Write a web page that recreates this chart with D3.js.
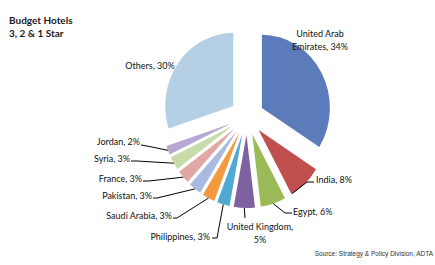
<!DOCTYPE html>
<html>
<head>
<meta charset="utf-8">
<script src="https://cdn.jsdelivr.net/npm/d3@7"></script>
<style>
  body { margin: 0; background: #fff; }
  svg { display: block; }
</style>
</head>
<body>
<div id="chart"></div>
<script>
// chart data
var countries = ["United Arab Emirates", "India", "Egypt", "United Kingdom", "Philippines",
                 "Saudi Arabia", "Pakistan", "France", "Syria", "Jordan", "Others"];
var shares = [34, 8, 6, 5, 3, 3, 3, 3, 3, 2, 30];

var titleLines = ["Budget Hotels", "3, 2 & 1 Star"];
var sourceText = "Source: Strategy & Policy Division, ADTA";

// slice colours (excel 2007 style)
var colors = ["#5b7bba", "#c0504d", "#9bbb59", "#7e61a1", "#4ea9d3", "#f39a3f",
              "#a9b9e0", "#e0a7a5", "#c7dcaa", "#b6a8d0", "#b5cfe4"];

// where each label sits + leader elbow points
var labelLayout = [
  {x: 320, y: 34, anchor: "middle", brk: 2},
  {x: 316, y: 180, anchor: "start", t: 0.97, path: [[307, 182], [314, 182]]},
  {x: 293, y: 212, anchor: "start", path: [[285, 213], [292, 213]]},
  {x: 260, y: 227, anchor: "middle", brk: 2, path: [[245, 218]]},
  {x: 210, y: 237, anchor: "end", path: [[217, 238], [212, 238]]},
  {x: 172, y: 216, anchor: "end", path: [[177, 218], [173, 218]]},
  {x: 152, y: 196, anchor: "end", path: [[157, 198], [153, 198]]},
  {x: 142, y: 179, anchor: "end", path: [[149, 181], [143, 181]]},
  {x: 130, y: 159, anchor: "end", path: [[137, 161], [131, 161]]},
  {x: 140, y: 142, anchor: "end", path: [[147, 146], [141, 145]]},
  {x: 150, y: 66, anchor: "middle"}
];

var width = 435, height = 265;
var cx = 247, cy = 116.7, r = 68, explode = 17, stretch = 1.075;

var svg = d3.select("#chart").append("svg")
  .attr("width", width)
  .attr("height", height);

svg.append("rect").attr("width", width).attr("height", height).attr("fill", "#fff");

var pie = d3.pie().sort(null).value(function(d) { return d; }).startAngle(0).endAngle(2 * Math.PI);
var arcs = pie(shares);
var arc = d3.arc().innerRadius(0).outerRadius(r);

// pie is a touch taller than wide in the original
var pieG = svg.append("g")
  .attr("transform", "translate(" + cx + "," + cy + ") scale(1," + stretch + ")");

pieG.selectAll("path").data(arcs).enter()
  .append("path")
  .attr("d", arc)
  .attr("fill", function(d, i) { return colors[i]; })
  .attr("transform", function(d) {
    var mid = (d.startAngle + d.endAngle) / 2;
    return "translate(" + (explode * Math.sin(mid)) + "," + (-explode * Math.cos(mid)) + ")";
  });

// point on the exploded outer rim, in page coords
function rimPoint(d, t) {
  var mid = (d.startAngle + d.endAngle) / 2;
  var a = d.startAngle + t * (d.endAngle - d.startAngle);
  var x = Math.sin(a) * r + Math.sin(mid) * explode;
  var y = -Math.cos(a) * r - Math.cos(mid) * explode;
  return [cx + x, cy + y * stretch];
}

var line = d3.line();
var lineH = 12.5;

arcs.forEach(function(d, i) {
  var lay = labelLayout[i];
  if (lay.path) {
    var pts = [rimPoint(d, lay.t === undefined ? 0.5 : lay.t)].concat(lay.path);
    svg.append("path")
      .attr("d", line(pts))
      .attr("fill", "none")
      .attr("stroke", "#000")
      .attr("stroke-width", 1);
  }
  var full = countries[i] + ", " + shares[i] + "%";
  var lines = [full];
  if (lay.brk) {
    var words = full.split(" ");
    lines = [words.slice(0, lay.brk).join(" "), words.slice(lay.brk).join(" ")];
  }
  var txt = svg.append("text")
    .attr("text-anchor", lay.anchor)
    .style("font-family", "Lato, 'Open Sans', sans-serif")
    .style("font-size", "9px")
    .attr("fill", "#111");
  lines.forEach(function(l, j) {
    txt.append("tspan")
      .attr("x", lay.x)
      .attr("y", lay.y + 3.2 + j * lineH)
      .text(l);
  });
});

// title
svg.append("g").selectAll("text").data(titleLines).enter()
  .append("text")
  .attr("x", 9)
  .attr("y", function(d, i) { return 24 + i * 13; })
  .style("font-family", "Lato, sans-serif")
  .style("font-weight", "bold")
  .style("font-size", "10px")
  .attr("fill", "#1a1a1a")
  .text(function(d) { return d; });

svg.append("text")
  .attr("x", 433)
  .attr("y", 256)
  .attr("text-anchor", "end")
  .style("font-family", "'Liberation Sans', Arial, sans-serif")
  .style("font-size", "6.5px")
  .attr("fill", "#333")
  .text(sourceText);
</script>
</body>
</html>
